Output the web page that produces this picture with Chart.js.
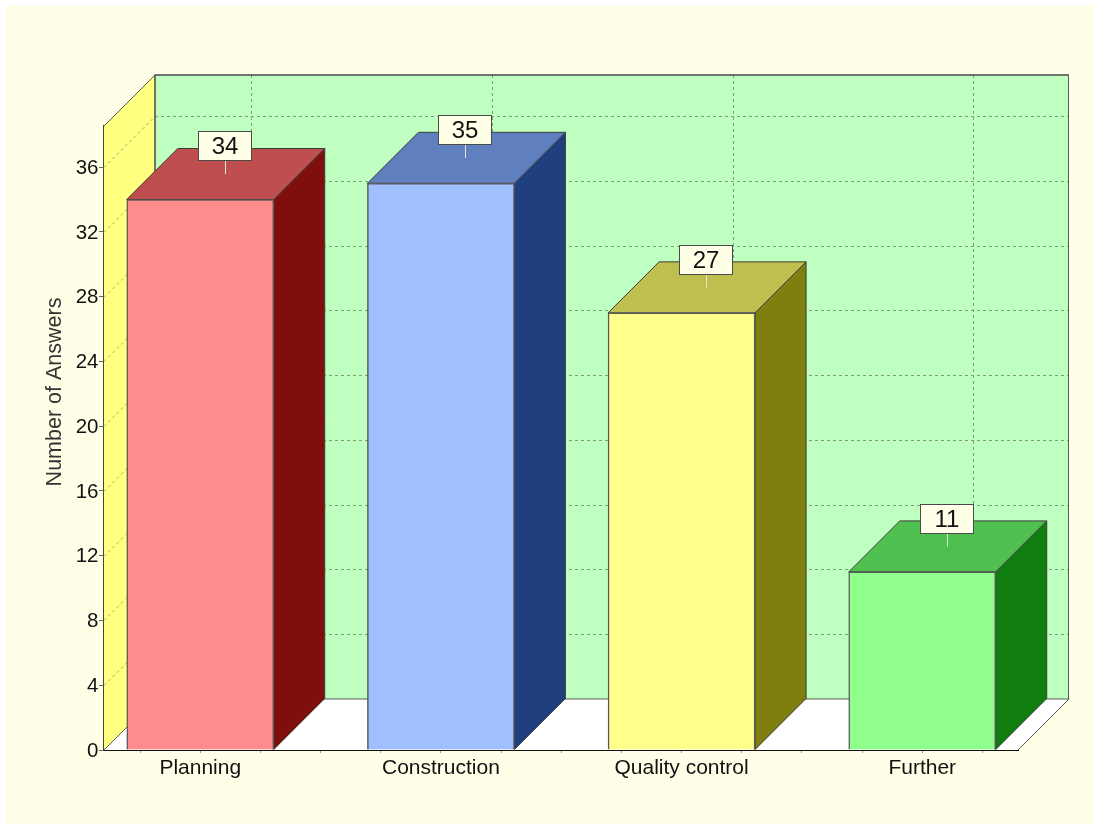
<!DOCTYPE html>
<html>
<head>
<meta charset="utf-8">
<title>Number of Answers</title>
<script src="https://cdn.jsdelivr.net/npm/chart.js@4"></script>
<style>
  html, body { margin:0; padding:0; background:#fff; }
  #wrap { width:1094px; height:824px; }
</style>
</head>
<body>
<div id="wrap"><canvas id="chart" width="1094" height="824"></canvas></div>
<script>
const categories = ['Planning','Construction','Quality control','Further'];
const answers = [34,35,27,11];
const frontColors = ['#ff8c8c','#a0bfff','#ffff8c','#90ff8c'];
const sideColors = ['#7f0e0c','#1f3f7f','#7f7f0f','#107f10'];
const topColors = ['#bf4f4f','#5f7fbf','#bfbf4f','#4fbf4f'];
const yMax = 38.54;
const yStep = 4;

// how far the "3D" box is pushed back, in pixels
const DEPTH = 51;
const FONT = '"Liberation Sans", Arial, sans-serif';

function poly(ctx, pts, fill, stroke, lw){
  ctx.beginPath();
  pts.forEach((p,i)=> i ? ctx.lineTo(p[0],p[1]) : ctx.moveTo(p[0],p[1]));
  ctx.closePath();
  if (fill){ ctx.fillStyle = fill; ctx.fill(); }
  if (stroke){ ctx.strokeStyle = stroke; ctx.lineWidth = lw || 1; ctx.stroke(); }
}

function open(ctx, pts, stroke, lw){
  ctx.beginPath();
  pts.forEach((p,i)=> i ? ctx.lineTo(p[0],p[1]) : ctx.moveTo(p[0],p[1]));
  ctx.strokeStyle = stroke; ctx.lineWidth = lw; ctx.stroke();
}

function dashed(ctx, x1, y1, x2, y2, color){
  ctx.save();
  ctx.setLineDash([3,3]);
  ctx.strokeStyle = color;
  ctx.lineWidth = 1;
  ctx.beginPath(); ctx.moveTo(x1,y1); ctx.lineTo(x2,y2); ctx.stroke();
  ctx.restore();
}

const box3d = {
  id:'box3d',
  beforeDraw(chart){
    const ctx = chart.ctx, {width,height} = chart;
    ctx.save();
    ctx.fillStyle = '#ffffe8';
    ctx.fillRect(6,6,width-6,height-6);
    ctx.restore();
  },
  // walls, floor and grid sit behind everything else
  beforeDatasetsDraw(chart){
    const ctx = chart.ctx, a = chart.chartArea, d = DEPTH;
    const xs = chart.scales.x, ys = chart.scales.y;
    const bl = a.left+d, br = a.right+d, bt = a.top-d, bb = a.bottom-d;
    ctx.save();
    poly(ctx, [[bl,bt],[br,bt],[br,bb],[bl,bb]], '#bfffbf');
    poly(ctx, [[a.left,a.top],[bl,bt],[bl,bb],[a.left,a.bottom]], '#ffff80');
    poly(ctx, [[a.left,a.bottom],[a.right,a.bottom],[br,bb],[bl,bb]], '#ffffff');

    ys.ticks.forEach(t => {
      if (t.value === 0) return;
      const y = Math.round(ys.getPixelForValue(t.value)) + 0.5;
      dashed(ctx, a.left, y, bl, y-d, '#a8a878');
      dashed(ctx, bl, y-d, br, y-d, '#7f9f7f');
    });
    xs.ticks.forEach(t => {
      if (!Number.isInteger(t.value)) return;
      const x = Math.round(xs.getPixelForValue(t.value)) + d + 0.5;
      dashed(ctx, x, bt, x, bb, '#7f9f7f');
    });

    // heavier along the top and left of the back wall
    open(ctx, [[bl,bb],[bl,bt],[br,bt]], '#4a4a4a', 1.5);
    open(ctx, [[bl,bb],[br-0.5,bb],[br-0.5,bt]], '#5a5a5a', 1);
    open(ctx, [[a.left,a.top],[bl,bt]], '#5a5a5a', 1);
    open(ctx, [[a.right,a.bottom],[br,bb]], '#5a5a5a', 1);
    open(ctx, [[a.left,a.bottom],[bl,bb]], '#5a5a5a', 1);

    // side and top faces of each bar
    chart.getDatasetMeta(0).data.forEach((bar,i) => {
      const l = bar.x - bar.width/2, r = bar.x + bar.width/2, t = bar.y, b = bar.base;
      poly(ctx, [[r,t],[r+d,t-d],[r+d,b-d],[r,b]], sideColors[i], '#3c3c3c', 1);
      poly(ctx, [[l,t],[r,t],[r+d,t-d],[l+d,t-d]], topColors[i], '#3c3c3c', 1);
    });
    ctx.restore();
  },
  afterDraw(chart){
    const ctx = chart.ctx, d = DEPTH, ys = chart.scales.y;
    ctx.save();
    // value flags standing on the top face
    chart.getDatasetMeta(0).data.forEach((bar,i) => {
      const cx = Math.round(bar.x + d/2 - 1) + 0.5, cy = bar.y - d/2;
      ctx.strokeStyle = '#e8e8d8';
      ctx.lineWidth = 1;
      ctx.beginPath(); ctx.moveTo(cx, cy); ctx.lineTo(cx, cy-14); ctx.stroke();
      const bw = 53, bh = 29, bx = cx-27, by = Math.round(cy-14-bh+0.3)+0.5;
      ctx.fillStyle = '#ffffe8';
      ctx.fillRect(bx,by,bw,bh);
      ctx.strokeStyle = '#4a4a4a';
      ctx.strokeRect(bx,by,bw,bh);
      ctx.fillStyle = '#111';
      ctx.font = '24px ' + FONT;
      ctx.textAlign = 'center';
      ctx.textBaseline = 'middle';
      ctx.fillText(String(answers[i]), bx+bw/2, by+bh/2+1);
    });
    // y labels sit a little under their tick marks
    ctx.fillStyle = '#111';
    ctx.font = '20.5px ' + FONT;
    ctx.textAlign = 'right';
    ctx.textBaseline = 'middle';
    ys.ticks.forEach(t => ctx.fillText(String(t.value), 98.5, ys.getPixelForValue(t.value) + 1));
    // axis title, centred on the wall rather than the axis
    ctx.translate(55, 392);
    ctx.rotate(-Math.PI/2);
    ctx.fillStyle = '#333';
    ctx.font = '21.5px ' + FONT;
    ctx.textAlign = 'center';
    ctx.textBaseline = 'middle';
    ctx.fillText('Number of Answers', 0, 0);
    ctx.restore();
  }
};

new Chart(document.getElementById('chart'), {
  type:'bar',
  data:{
    datasets:[{
      label:'Number of Answers',
      data: answers.map((v,i)=>({x:i,y:v})),
      backgroundColor: frontColors,
      borderColor:'#5a5a5a',
      borderWidth:1.5,
      barThickness:147
    }]
  },
  options:{
    responsive:false,
    animation:false,
    layout:{ padding:{ top:126, right:76, left:0, bottom:0 } },
    plugins:{ legend:{display:false}, tooltip:{enabled:false}, title:{display:false} },
    scales:{
      x:{
        type:'linear', offset:false, min:-0.4, max:3.398,
        afterFit(s){ s.height = 74; },
        border:{ color:'#111', width:2 },
        grid:{ offset:false, drawOnChartArea:false, tickLength:3, tickColor:'#999' },
        ticks:{
          stepSize:0.25, includeBounds:false, autoSkip:false, maxRotation:0,
          color:'#111', padding:3, font:{ family:FONT, size:21 },
          callback:v => Number.isInteger(v) ? categories[v] : ''
        }
      },
      y:{
        min:0, max:yMax,
        afterFit(s){ s.width = 104; },
        border:{ color:'#444', width:2 },
        grid:{ drawOnChartArea:false, tickLength:5, tickColor:'#666' },
        ticks:{ stepSize:yStep, includeBounds:false, display:false }
      }
    }
  },
  plugins:[box3d]
});
</script>
</body>
</html>
